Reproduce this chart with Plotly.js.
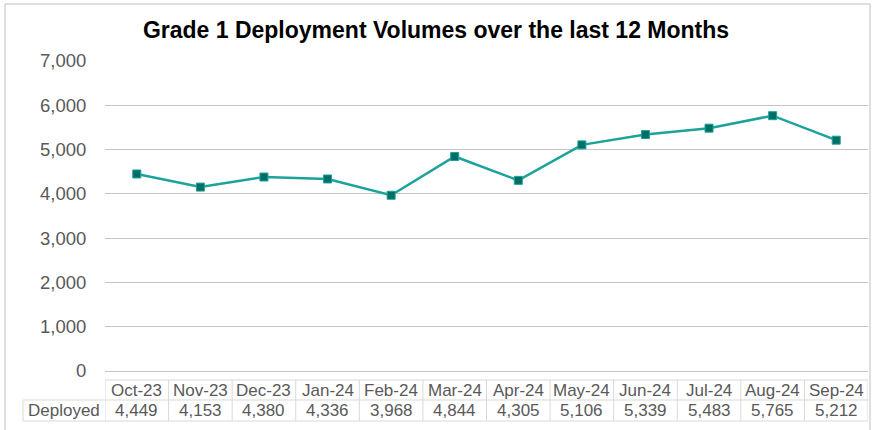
<!DOCTYPE html>
<html>
<head>
<meta charset="utf-8">
<script src="https://cdn.plot.ly/plotly-3.0.1.min.js"></script>
<style>
  html, body { margin: 0; padding: 0; background: #ffffff; }
  #chart { width: 872px; height: 430px; }
</style>
</head>
<body>
<div id="chart"></div>
<script>
// ---- Data ----
const months = ["Oct-23","Nov-23","Dec-23","Jan-24","Feb-24","Mar-24","Apr-24","May-24","Jun-24","Jul-24","Aug-24","Sep-24"];
const deployed = [4449, 4153, 4380, 4336, 3968, 4844, 4305, 5106, 5339, 5483, 5765, 5212];
const seriesName = "Deployed";
const yTicks = [0, 1000, 2000, 3000, 4000, 5000, 6000, 7000];
const chartTitle = "Grade 1 Deployment Volumes over the last 12 Months";

// ---- Layout geometry (pixels) ----
const W = 872, H = 430;
const M = {l: 105, r: 4, t: 61, b: 59};
const plotW = W - M.l - M.r, plotH = H - M.t - M.b;
const px2px = x => (x - M.l) / plotW;          // pixel x -> paper x
const py2py = y => (H - M.b - y) / plotH;       // pixel y -> paper y

const gridColor = "#c4c4c4";
const tableColor = "#d9d9d9";
const textColor = "#595959";
const font = "Liberation Sans, Arial, sans-serif";

const rowTop = py2py(380), rowMid = py2py(400), rowBot = py2py(421);
const labelLeft = px2px(23);

const shapes = [];
// outer chart border
shapes.push({type: "rect", xref: "paper", yref: "paper",
  x0: px2px(5), x1: px2px(870), y0: py2py(433), y1: py2py(4),
  line: {color: "#bfbfbf", width: 1}, fillcolor: "rgba(0,0,0,0)", layer: "below"});
// table horizontal lines
shapes.push({type: "line", xref: "x", yref: "paper", x0: -0.5, x1: months.length - 0.5, y0: rowTop, y1: rowTop, line: {color: tableColor, width: 1}});
shapes.push({type: "line", xref: "paper", yref: "paper", x0: labelLeft, x1: 1, y0: rowMid, y1: rowMid, line: {color: tableColor, width: 1}});
shapes.push({type: "line", xref: "paper", yref: "paper", x0: labelLeft, x1: 1, y0: rowBot, y1: rowBot, line: {color: tableColor, width: 1}});
// table vertical lines
for (let i = 0; i <= months.length; i++) {
  shapes.push({type: "line", xref: "x", yref: "paper", x0: i - 0.5, x1: i - 0.5, y0: rowTop, y1: rowBot, line: {color: tableColor, width: 1}});
}
shapes.push({type: "line", xref: "paper", yref: "paper", x0: labelLeft, x1: labelLeft, y0: rowMid, y1: rowBot, line: {color: tableColor, width: 1}});

const annotations = [];
const cellFont = {family: font, size: 17, color: textColor};
months.forEach((m, i) => {
  annotations.push({xref: "x", yref: "paper", x: m, y: (rowTop + rowMid) / 2, text: m,
    showarrow: false, xanchor: "center", yanchor: "middle", font: cellFont});
  annotations.push({xref: "x", yref: "paper", x: m, y: (rowMid + rowBot) / 2, text: deployed[i].toLocaleString("en-US"),
    showarrow: false, xanchor: "center", yanchor: "middle", font: cellFont});
});
annotations.push({xref: "paper", yref: "paper", x: (labelLeft + 0) / 2, y: (rowMid + rowBot) / 2, text: seriesName,
  showarrow: false, xanchor: "center", yanchor: "middle", font: cellFont});

const trace = {
  type: "scatter", mode: "lines+markers", name: seriesName,
  x: months, y: deployed,
  line: {color: "#1ba39a", width: 2.5},
  marker: {symbol: "square", size: 8, color: "#006e66", line: {color: "#1ba39a", width: 1}},
  cliponaxis: false, hoverinfo: "x+y"
};

const layout = {
  width: W, height: H,
  margin: M,
  paper_bgcolor: "#ffffff", plot_bgcolor: "#ffffff",
  showlegend: false,
  title: {text: "<b>" + chartTitle + "</b>", x: 436 / W, xref: "container", xanchor: "center",
    y: 1 - 30 / H, yref: "container", yanchor: "middle",
    font: {family: font, size: 23, color: "#000000"}},
  xaxis: {type: "category", range: [-0.5, months.length - 0.5], showticklabels: false,
    showgrid: false, zeroline: false, showline: true, linecolor: gridColor, linewidth: 1, ticks: "", fixedrange: true},
  yaxis: {range: [0, 7000], tickvals: yTicks, ticktext: yTicks.map(v => v.toLocaleString("en-US")),
    showgrid: true, gridcolor: gridColor, gridwidth: 1, zeroline: false, showline: false,
    ticks: "outside", ticklen: 14, tickcolor: "rgba(0,0,0,0)",
    tickfont: {family: font, size: 18.5, color: textColor}, fixedrange: true},
  shapes: shapes,
  annotations: annotations
};

Plotly.newPlot("chart", [trace], layout, {displayModeBar: false, staticPlot: true});
</script>
</body>
</html>
